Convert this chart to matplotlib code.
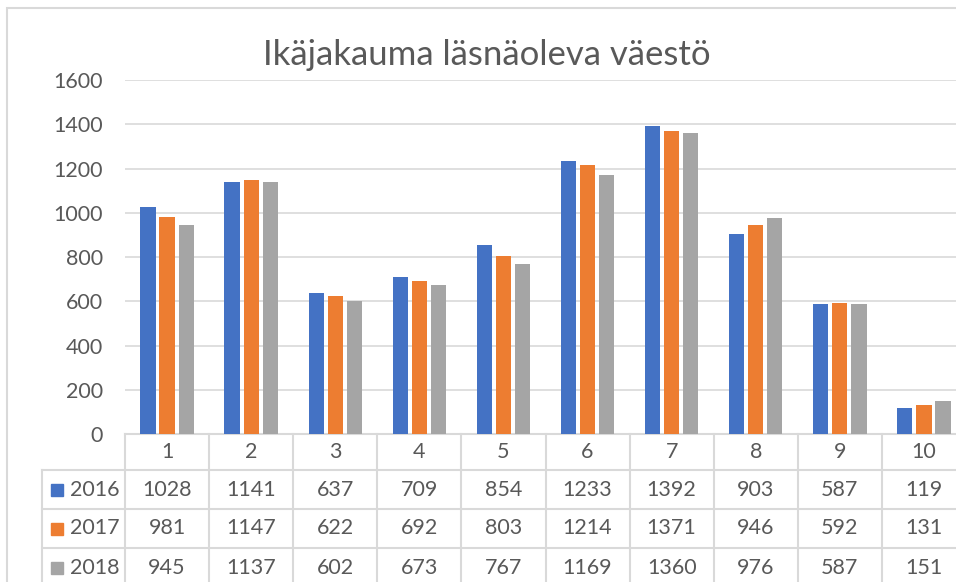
import matplotlib.pyplot as plt
from matplotlib.patches import Rectangle
import numpy as np

plt.rcParams['font.family'] = ['Lato', 'DejaVu Sans']

categories = ['1', '2', '3', '4', '5', '6', '7', '8', '9', '10']
years = ['2016', '2017', '2018']
v2016 = [1028, 1141, 637, 709, 854, 1233, 1392, 903, 587, 119]
v2017 = [981, 1147, 622, 692, 803, 1214, 1371, 946, 592, 131]
v2018 = [945, 1137, 602, 673, 767, 1169, 1360, 976, 587, 151]
series = [v2016, v2017, v2018]
colors = ['#4472C4', '#ED7D31', '#A5A5A5']
title = 'Ikäjakauma läsnäoleva väestö'

W, H = 956, 582
txt = '#595959'
line = '#d9d9d9'
fig = plt.figure(figsize=(W / 100, H / 100), dpi=100)

# outer chart border (cropped on right and bottom)
fig.patches.append(Rectangle((7 / W, -0.1), 1.1, 1 - 8 / H + 0.1, transform=fig.transFigure,
                             fill=False, edgecolor=line, lw=1.5))

ax = fig.add_axes([125 / W, (H - 434) / H, (966 - 125) / W, 354 / H])
x = np.arange(1, len(categories) + 1)
for i, (vals, c) in enumerate(zip(series, colors)):
    ax.bar(x + (i - 1) * 0.227, vals, width=0.18, color=c, zorder=3)

ax.set_xlim(0.5, 10.5)
ax.set_ylim(0, 1600)
ax.set_yticks(range(0, 1601, 200))
ax.set_xticks([])
for s in ax.spines.values():
    s.set_visible(False)
ax.grid(axis='y', color=line, lw=1.2, zorder=0)
ax.tick_params(axis='y', length=0, pad=16, labelsize=15.5, labelcolor=txt)

# data table below the axes
tr = ax.get_xaxis_transform()
def py(ypx):
    return (434 - ypx) / 354

rows = [434, 470, 509, 548, 587]
left = -0.488
for k in range(len(categories) + 1):
    ax.plot([0.5 + k, 0.5 + k], [py(434), py(610)], transform=tr, color=line, lw=1.5, clip_on=False)
ax.plot([left, left], [py(470), py(610)], transform=tr, color=line, lw=1.5, clip_on=False)
ax.plot([0.5, 10.5], [py(434), py(434)], transform=tr, color=line, lw=1.5, clip_on=False)
for r in rows[1:]:
    ax.plot([left, 10.5], [py(r), py(r)], transform=tr, color=line, lw=1.5, clip_on=False)

hc = py((rows[0] + rows[1]) / 2)
for xi, cat in zip(x, categories):
    ax.text(xi, hc, cat, transform=tr, ha='center', va='center', fontsize=15.5, color=txt, clip_on=False)

for j, (yr, vals, c) in enumerate(zip(years, series, colors)):
    yc = py((rows[j + 1] + rows[j + 2]) / 2)
    ax.add_patch(Rectangle((-0.381, yc - 6 / 354), 0.143, 12 / 354, transform=tr,
                           color=c, clip_on=False))
    ax.text(-0.155, yc, yr, transform=tr, ha='left', va='center', fontsize=15.5, color=txt, clip_on=False)
    for xi, v in zip(x, vals):
        ax.text(xi, yc, str(v), transform=tr, ha='center', va='center', fontsize=15.5, color=txt, clip_on=False)

fig.text(487 / W, 1 - 65 / H, title, ha='center', va='baseline', fontsize=25, color=txt)

fig.savefig('out.png', dpi=100)
